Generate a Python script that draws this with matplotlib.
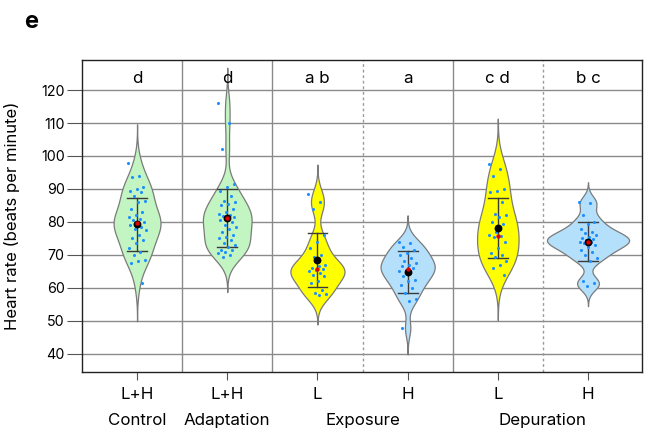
"""
Panel e: heart rate violins per treatment phase (mean +/- SD, median in red).
Writes: out.png
"""
import matplotlib.pyplot as plt
import numpy as np
from matplotlib.transforms import blended_transform_factory

plt.rcParams["font.family"] = ["Inter", "DejaVu Sans"]

# --- data ---------------------------------------------------------------
tick_labels = ["L+H", "L+H", "L", "H", "L", "H"]
phase_labels = ["Control", "Adaptation", "Exposure", "Depuration"]
phase_centres = [0, 1, 2.5, 4.5]
sig_letters = ["d", "d", "a b", "a", "c d", "b c"]

control = [98, 94, 93.5, 90.5, 90, 89.5, 89, 88, 86.5, 86, 84, 83, 82, 81.5,
           81, 80.5, 80, 79.5, 79, 78.5, 78, 77.5, 76, 75, 74.5, 73.5, 72,
           71, 70, 68.5, 68, 67.5, 61.5]
adaptation = [116, 110, 102, 91.5, 90.5, 89.5, 88, 86.5, 86, 85.5, 85, 84,
              83, 82.5, 82, 81.8, 81.5, 81, 80.5, 80, 79, 78.5, 78, 77, 76,
              75.5, 75, 74.5, 73.5, 73, 72.5, 71.5, 71.5, 71, 70.5, 70, 69.5]
exposure_l = [88.5, 86, 84, 76, 74, 72, 70, 69.5, 67, 66.5, 66, 65.8, 65.5,
              65, 64.5, 64, 63.5, 62, 61.5, 59.5, 58.5, 58, 57.8]
exposure_h = [74, 73.5, 72.5, 71.5, 70.5, 70, 69, 68, 67.5, 67, 66.5, 66,
              65.5, 65, 64.5, 63.5, 62.5, 62, 61, 60, 58.5, 56.5, 56, 47.8]
depuration_l = [97.5, 96, 94, 90, 89.5, 89, 86, 82.5, 82, 81.5, 80, 79.5, 77,
                76, 75.8, 75.5, 74, 72, 70.5, 70, 69.5, 68, 67, 66, 64]
depuration_h = [86, 85.8, 82, 80, 79.5, 78, 77, 76.5, 76, 75.5, 75, 74.8,
                74.5, 74, 73.8, 73.5, 73, 72.5, 71.5, 71, 70, 69, 68, 62,
                61.5, 60.5]
groups = [control, adaptation, exposure_l, exposure_h, depuration_l,
          depuration_h]

means = [79.3, 81.2, 68.4, 64.8, 78.3, 74.0]
sds = [8.1, 8.9, 8.2, 6.3, 9.1, 5.9]
medians = [79.8, 81.3, 65.8, 65.8, 75.8, 74.0]

GREEN, YELLOW, BLUE = "#c2f5c2", "#ffff00", "#b5e0fb"
fills = [GREEN, GREEN, YELLOW, BLUE, YELLOW, BLUE]
half_widths = [0.26, 0.27, 0.30, 0.30, 0.23, 0.455]


def kde(vals):
    """Gaussian KDE with R's bw.nrd0, extended 3 bandwidths past the data."""
    x = np.asarray(vals, float)
    iqr = np.subtract(*np.percentile(x, [75, 25]))
    bw = 0.9 * min(x.std(ddof=1), iqr / 1.34) * len(x) ** -0.2
    grid = np.linspace(x.min() - 3 * bw, x.max() + 3 * bw, 512)
    d = np.exp(-0.5 * ((grid[:, None] - x[None, :]) / bw) ** 2).sum(1)
    return grid, d / d.max()


fig = plt.figure(figsize=(6.46, 4.32), dpi=100)
ax = fig.add_axes([0.127, 0.139, 0.867, 0.722])

# horizontal grid and separators
for yv in range(40, 130, 10):
    ax.axhline(yv, color="#8a8a8a", lw=1.0, zorder=0)
for xv in [0.5, 1.5, 3.5]:
    ax.axvline(xv, color="#8a8a8a", lw=1.0, zorder=0)
for xv in [2.5, 4.5]:
    ax.axvline(xv, color="#9a9a9a", lw=1.0, ls=(0, (2, 2)), zorder=0)

for i, g in enumerate(groups):
    yy, d = kde(g)
    w = d * half_widths[i]
    ax.fill_betweenx(yy, i - w, i + w, facecolor=fills[i],
                     edgecolor="#7a7a7a", lw=0.9, zorder=2)
    lo, hi = means[i] - sds[i], means[i] + sds[i]
    ax.plot([i, i], [lo, hi], color="#3a3a3a", lw=1.0, zorder=3)
    ax.plot([i - 0.11, i + 0.11], [hi, hi], color="#3a3a3a", lw=1.0, zorder=3)
    ax.plot([i - 0.11, i + 0.11], [lo, lo], color="#3a3a3a", lw=1.0, zorder=3)
    n = len(g)
    jitter = ((np.arange(n) * 0.618) % 1 - 0.5) * 0.2
    ax.scatter(i + jitter, g, s=5, color="#1e8fff", lw=0, zorder=4)
    ax.scatter([i], [means[i]], s=32, color="black", lw=0, zorder=5)
    ax.scatter([i], [medians[i]], s=10, color="#e00000", lw=0, zorder=6)
    ax.text(i, 122.1, sig_letters[i], ha="center", va="baseline",
            fontsize=12.2)

ax.set_xlim(-0.61, 5.6)
ax.set_ylim(34.5, 129.1)
ax.set_yticks(range(40, 130, 10))
ax.set_xticks(range(6))
ax.set_xticklabels(tick_labels, fontsize=12.2)
ax.tick_params(axis="y", labelsize=10.3, length=11, pad=1.5, color="#555555")
ax.tick_params(axis="x", length=5.5, pad=5.5, color="#555555")
for s in ax.spines.values():
    s.set_linewidth(1.0)
    s.set_color("#222222")
ax.set_ylabel("Heart rate (beats per minute)", fontsize=12)
ax.yaxis.set_label_coords(-0.111, 0.5)

tr = blended_transform_factory(ax.transData, ax.transAxes)
for xc, lab in zip(phase_centres, phase_labels):
    ax.text(xc, -0.157, lab, transform=tr, ha="center", va="center",
            fontsize=12.2)

fig.text(0.038, 0.95, "e", fontsize=17, fontweight="bold", va="center")

fig.savefig("out.png", dpi=100)
